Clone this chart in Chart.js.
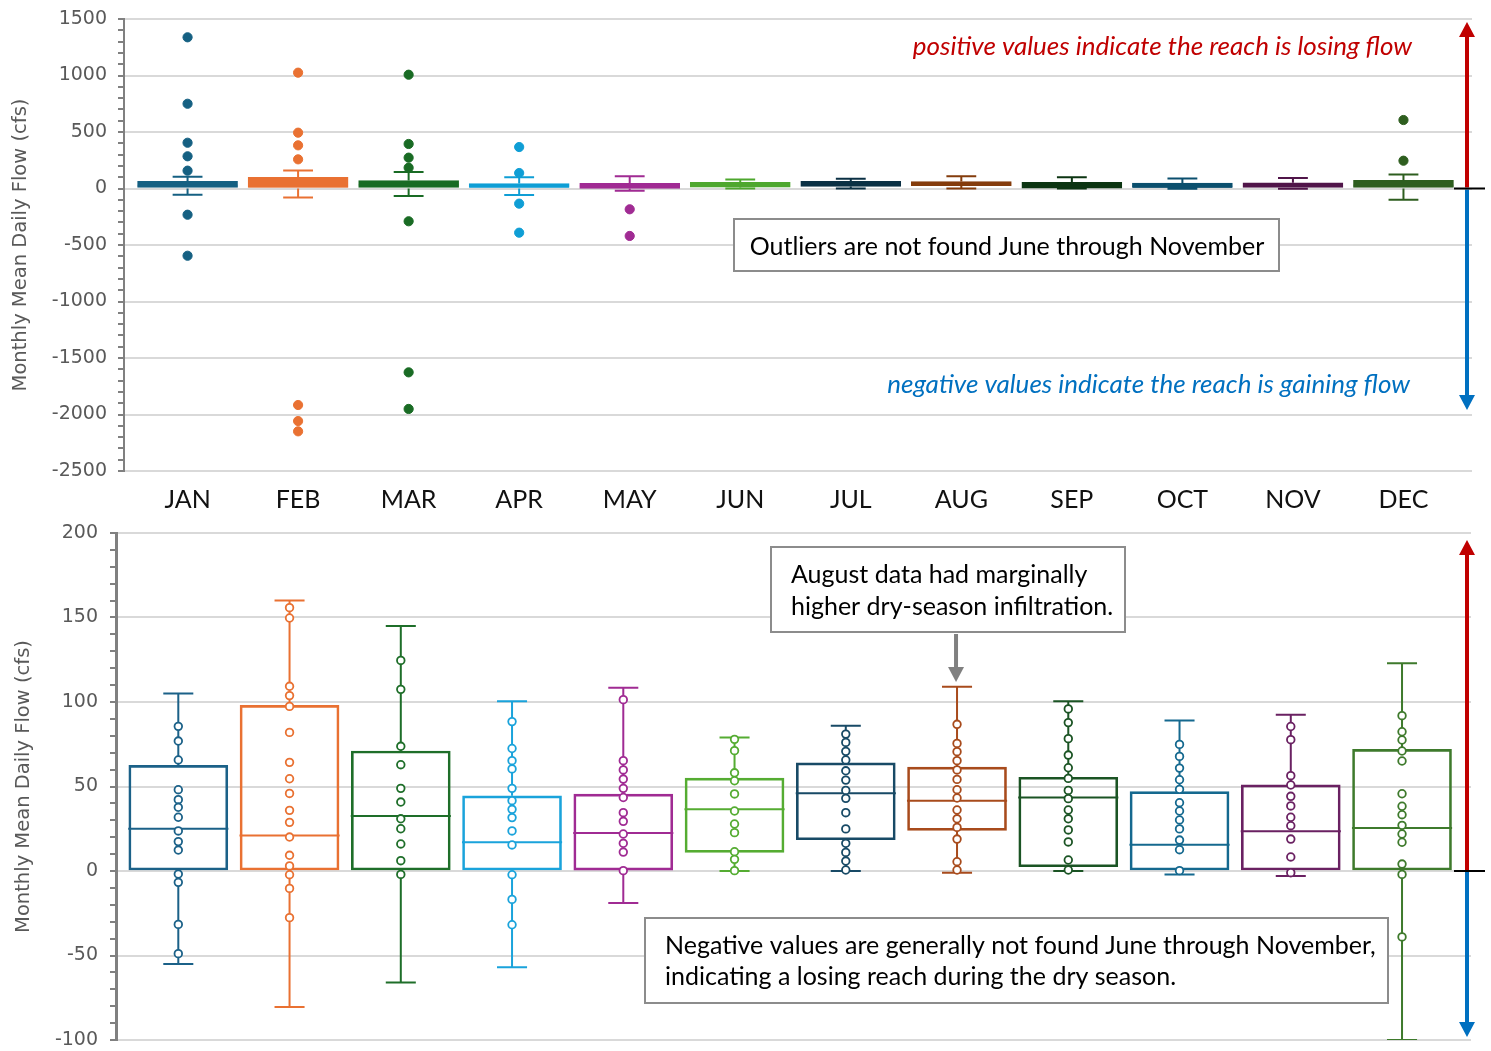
<!DOCTYPE html>
<html><head><meta charset="utf-8">
<script src="https://cdn.jsdelivr.net/npm/chart.js@4.4.1/dist/chart.umd.min.js"></script>
<style>
html,body{margin:0;padding:0;background:#fff;}
body{width:1491px;height:1051px;overflow:hidden;position:relative;}
canvas{position:absolute;left:0;}
#topChart{top:0;}
#botChart{top:520px;}
</style></head>
<body>
<canvas id="topChart" width="1491" height="520"></canvas>
<canvas id="botChart" width="1491" height="531"></canvas>
<script>
// ---------------- DATA ----------------
const months = ['JAN','FEB','MAR','APR','MAY','JUN','JUL','AUG','SEP','OCT','NOV','DEC'];
const whiskerLow  = [-55, -80.5, -66, -57, -19, 0, 0, -1, 0, -2, -3, -100];
const q1          = [0, 0, 0, 0, 0.5, 11, 18.5, 24, 2.5, 0, 0, 0];
const median      = [25, 21, 32.5, 17, 22.5, 36.5, 46, 41.5, 43.5, 15.5, 23.5, 25.5];
const q3          = [62.5, 98, 71, 44.5, 45.5, 55, 64, 61.5, 55.5, 47, 51, 72];
const whiskerHigh = [105, 160, 145, 100.5, 108.5, 79, 86, 109, 100.5, 89, 92.5, 123];
const outliers = [
  [1338, 750, 405, 285, 158, -232, -595],
  [1025, 494, 382, 258, -1916, -2058, -2149],
  [1007, 394, 273, 184, -290, -1627, -1951],
  [367, 137, -134, -391],
  [-184, -420],
  [], [], [], [], [], [],
  [606, 246]
];
const inliers = [
  [85.6, 76.9, 65.7, 48.1, 42.2, 37.7, 31.8, 23.7, 17.4, 12.4, -1.8, -6.7, -31.6, -48.9],
  [155.8, 149.7, 109.3, 103.8, 97.4, 82, 64.3, 54.6, 45.9, 35.9, 28.8, 20.1, 9.3, 3, -2.2, -10.3, -27.6],
  [124.6, 107.5, 73.8, 62.9, 48.9, 40.8, 30.9, 25, 16, 6.1, -2],
  [88.4, 72.5, 65.3, 60.4, 48.9, 41.6, 36.5, 31.6, 23.7, 15.4, -2.2, -16.8, -31.8],
  [101.4, 65.3, 59.8, 54.4, 48.9, 43.5, 34.5, 29.4, 21.9, 16.4, 11.2, 0.2],
  [77.9, 71.2, 58.1, 53.4, 45.6, 35.5, 27.8, 22.7, 11.4, 6.9, 0.2],
  [81, 76.1, 70.8, 65.7, 59.3, 53.8, 47.7, 43, 34.5, 24.9, 16.4, 11, 5.9, 0.6],
  [86.8, 75.5, 70.6, 65.3, 59.8, 54.2, 48.1, 43.2, 36.1, 30.9, 25.8, 18.9, 5.5, 0.6],
  [95.9, 87.8, 78.3, 68.6, 61.1, 54.8, 47.7, 42.8, 36.1, 30.9, 24.3, 17.2, 6.5, 0.6],
  [74.9, 67.8, 60.9, 54, 48.3, 40.4, 35.5, 30.2, 24.9, 18.3, 12.6, 0.2],
  [85.5, 77.7, 56.4, 50.9, 44.2, 38.5, 31.8, 26.8, 18.9, 8.3, -1],
  [91.9, 82.4, 77.5, 71, 65.1, 45.7, 38.3, 33.3, 27, 21.9, 17, 4.1, -2, -39]
];
const topColors = ['#156082','#E97132','#196B24','#0F9ED5','#A02B93','#4EA72E','#0B3044','#843C0C','#0C3512','#0B4F6E','#501549','#2E5E1F'];
const botColors = ['#1B6188','#E97132','#1E6E29','#1AA3DB','#A02B93','#55AC32','#184A66','#A84B1C','#1B5424','#15698F','#6A2162','#3E7A2C'];
const topYTicks = {min: -2500, max: 1500, major: 500, minor: 100};
const botYTicks = {min: -100, max: 200, major: 50, minor: 10};
const yTitle = 'Monthly Mean Daily Flow (cfs)';

// ---------------- STYLE ----------------
const BOX_W = 0.9;   // box width, category units (for median line)
const CAP_W = 0.27;  // whisker cap width, category units

function whiskerData(i) {
  const c = CAP_W / 2, b = BOX_W / 2;
  return [
    {x: i - c, y: whiskerHigh[i]}, {x: i + c, y: whiskerHigh[i]}, {x: i + c, y: null},
    {x: i, y: whiskerHigh[i]}, {x: i, y: q3[i]}, {x: i, y: null},
    {x: i, y: q1[i]}, {x: i, y: whiskerLow[i]}, {x: i, y: null},
    {x: i - c, y: whiskerLow[i]}, {x: i + c, y: whiskerLow[i]}, {x: i + c, y: null},
    {x: i - b, y: median[i]}, {x: i + b, y: median[i]}
  ];
}
function pointData(arr) {
  return arr.flatMap((vals, i) => vals.map(v => ({x: i, y: v})));
}
function buildDatasets(colors, pts, hollow, barPx) {
  const ds = [];
  const pd = pointData(pts);
  ds.push({
    type: 'scatter', data: pd, showLine: false, order: 0,
    pointRadius: hollow ? 3.8 : 4.6,
    pointBorderWidth: hollow ? 1.8 : 1,
    pointBackgroundColor: pd.map(p => hollow ? '#ffffff' : colors[p.x]),
    pointBorderColor: pd.map(p => colors[p.x]),
    pointHoverRadius: 0
  });
  months.forEach((m, i) => {
    ds.push({
      type: 'line', data: whiskerData(i), order: 1,
      borderColor: colors[i], borderWidth: 2, pointRadius: 0, pointHoverRadius: 0,
      fill: false, tension: 0, spanGaps: false
    });
  });
  ds.push({
    type: 'bar', order: 2,
    data: months.map((m, i) => ({x: i, y: [q1[i], q3[i]]})),
    backgroundColor: hollow ? 'rgba(0,0,0,0)' : colors,
    borderColor: colors, borderWidth: hollow ? 2 : 1.5, borderSkipped: false,
    barThickness: barPx
  });
  return ds;
}

function yScale(t, axisWidth, borderW, titlePad, labelPad) {
  return {
    type: 'linear', min: t.min, max: t.max,
    afterFit: s => { s.width = axisWidth; s.paddingTop = 0; s.paddingBottom = 0; },
    ticks: {
      stepSize: t.minor, autoSkip: false, padding: labelPad, color: '#595959',
      font: {family: 'DejaVu Sans', size: 19},
      callback: v => (v % t.major === 0 ? String(v) : '')
    },
    grid: {
      color: c => (c.tick && c.tick.value % t.major === 0 ? '#d9d9d9' : 'rgba(0,0,0,0)'),
      lineWidth: 2, drawTicks: true, tickLength: 6, tickWidth: 2, tickColor: '#808080'
    },
    border: {display: true, color: '#808080', width: borderW},
    title: {display: true, text: yTitle, color: '#595959', font: {family: 'DejaVu Sans', size: 19.5}, padding: {top: titlePad, bottom: 0}}
  };
}
function xScale(min, max, showLabels, height) {
  return {
    type: 'linear', min: min, max: max, offset: false,
    afterBuildTicks: s => { s.ticks = months.map((m, i) => ({value: i})); },
    afterFit: s => { s.height = height; s.paddingLeft = 0; s.paddingRight = 0; },
    grid: {display: false, drawTicks: false}, border: {display: false},
    ticks: {display: showLabels, autoSkip: false, maxRotation: 0, padding: 14, color: '#111',
      font: {family: 'Lato', size: 25}, callback: v => months[v] ?? ''}
  };
}

function arrow(ctx, x, y0, y1, color, w, head, headLen) {
  const dir = y1 < y0 ? -1 : 1;
  ctx.save();
  ctx.strokeStyle = color; ctx.fillStyle = color; ctx.lineWidth = w;
  ctx.beginPath(); ctx.moveTo(x, y0); ctx.lineTo(x, y1 - dir * headLen); ctx.stroke();
  ctx.beginPath(); ctx.moveTo(x, y1); ctx.lineTo(x - head / 2, y1 - dir * headLen); ctx.lineTo(x + head / 2, y1 - dir * headLen); ctx.closePath(); ctx.fill();
  ctx.restore();
}
function noteBox(ctx, x, y, w, h) {
  ctx.save();
  ctx.fillStyle = '#ffffff'; ctx.fillRect(x, y, w, h);
  ctx.strokeStyle = '#8c8c8c'; ctx.lineWidth = 2; ctx.strokeRect(x, y, w, h);
  ctx.restore();
}
function zeroMark(ctx, zero) {
  ctx.save(); ctx.strokeStyle = '#000'; ctx.lineWidth = 2;
  ctx.beginPath(); ctx.moveTo(1454, zero); ctx.lineTo(1485, zero); ctx.stroke(); ctx.restore();
}
const NOTE_FONT = '25px Lato';
const ITALIC_FONT = 'italic 26px Lato';

const topNotes = {
  id: 'topNotes',
  afterDraw(chart) {
    const ctx = chart.ctx, ys = chart.scales.y;
    const zero = ys.getPixelForValue(0);
    ctx.save();
    ctx.font = ITALIC_FONT; ctx.textAlign = 'right'; ctx.textBaseline = 'alphabetic';
    ctx.fillStyle = '#C00000'; ctx.fillText('positive values indicate the reach is losing flow', 1412, 55);
    ctx.fillStyle = '#0070C0'; ctx.fillText('negative values indicate the reach is gaining flow', 1410, 393);
    noteBox(ctx, 734, 219, 545, 52);
    ctx.font = NOTE_FONT; ctx.fillStyle = '#000'; ctx.textAlign = 'center';
    ctx.fillText('Outliers are not found June through November', 1007, 255);
    ctx.restore();
    arrow(ctx, 1467, zero - 1, 22, '#C00000', 4, 16, 15);
    arrow(ctx, 1467, zero + 1, 410, '#0070C0', 4, 16, 15);
    zeroMark(ctx, zero);
  }
};
const botNotes = {
  id: 'botNotes',
  afterDraw(chart) {
    const ctx = chart.ctx, ys = chart.scales.y, xs = chart.scales.x;
    const zero = ys.getPixelForValue(0);
    ctx.save();
    noteBox(ctx, 771, 27, 354, 85);
    ctx.font = NOTE_FONT; ctx.fillStyle = '#000'; ctx.textAlign = 'left'; ctx.textBaseline = 'alphabetic';
    ctx.fillText('August data had marginally', 791, 63);
    ctx.fillText('higher dry-season infiltration.', 791, 95);
    noteBox(ctx, 645, 398, 743, 85);
    ctx.fillText('Negative values are generally not found June through November,', 665, 434);
    ctx.fillText('indicating a losing reach during the dry season.', 665, 465);
    ctx.restore();
    arrow(ctx, xs.getPixelForValue(7) - 1, 114, 162, '#808080', 4, 16, 15);
    arrow(ctx, 1467, zero - 1, 20, '#C00000', 4, 16, 15);
    arrow(ctx, 1467, zero + 1, 517, '#0070C0', 4, 16, 15);
    zeroMark(ctx, zero);
  }
};

const common = {
  responsive: false, animation: false,
  plugins: {legend: {display: false}, tooltip: {enabled: false}},
  events: []
};

new Chart(document.getElementById('topChart'), {
  type: 'scatter',
  data: {datasets: buildDatasets(topColors, outliers, false, 100)},
  options: Object.assign({}, common, {
    layout: {padding: {top: 19, right: 19, bottom: 0, left: 0}},
    scales: {
      x: xScale(-0.575, 11.62, true, 49),
      y: yScale(topYTicks, 124, 2, 9, 11)
    }
  }),
  plugins: [topNotes]
});

new Chart(document.getElementById('botChart'), {
  type: 'scatter',
  data: {datasets: buildDatasets(botColors, inliers, true, 99)},
  options: Object.assign({}, common, {
    layout: {padding: {top: 13, right: 20, bottom: 0, left: 0}},
    scales: {
      x: xScale(-0.56, 11.62, false, 11),
      y: yScale(botYTicks, 116, 3, 12, 12)
    }
  }),
  plugins: [botNotes]
});
</script>
</body></html>
